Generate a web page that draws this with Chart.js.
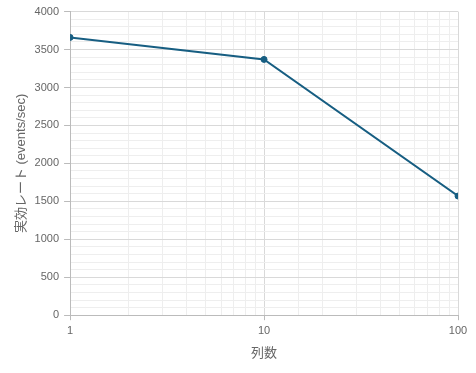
<!DOCTYPE html>
<html>
<head>
<meta charset="utf-8">
<script src="https://cdn.jsdelivr.net/npm/chart.js@4/dist/chart.umd.min.js"></script>
<style>
  body { margin: 0; background: #fff; }
  #wrap { width: 476px; height: 373px; }
</style>
</head>
<body>
<div id="wrap"><canvas id="canvas" width="476" height="373"></canvas></div>
<script>
var columns = [1, 10, 100];
var rates = [3660, 3370, 1570];
var xMajorTicks = [1, 10, 100];

var isMajorX = function(v){ return xMajorTicks.indexOf(v) >= 0; };
var isMajorY = function(v){ return v % 500 === 0; };

var points = [];
for (var i = 0; i < columns.length; i++) {
  points.push({x: columns[i], y: rates[i]});
}

Chart.defaults.font.family = "'Liberation Sans', 'Noto Sans CJK JP', sans-serif";
Chart.defaults.color = '#666';

var ctx = document.getElementById('canvas').getContext('2d');
var chart = new Chart(ctx, {
  type: 'line',
  data: {
    datasets: [{
      data: points,
      borderColor: '#175e82',
      backgroundColor: '#175e82',
      borderWidth: 2,
      pointRadius: 3,
      pointBorderWidth: 1,
      pointBackgroundColor: '#175e82',
      fill: false,
      tension: 0
    }]
  },
  options: {
    responsive: false,
    animation: false,
    layout: { padding: { top: 2, right: 18, left: 8, bottom: 8 } },
    plugins: { legend: { display: false }, tooltip: { enabled: false } },
    scales: {
      x: {
        type: 'logarithmic',
        min: 1,
        max: 100,
        border: { color: '#bbb' },
        grid: {
          color: function(c){ return isMajorX(c.tick.value) ? '#d9d9d9' : '#eeeeee'; },
          tickColor: function(c){ return isMajorX(c.tick.value) ? '#bbb' : 'rgba(0,0,0,0)'; },
          tickLength: 5
        },
        ticks: {
          autoSkip: false,
          maxRotation: 0,
          padding: 4,
          font: { size: 11 },
          callback: function(v){ return isMajorX(v) ? String(v) : ''; }
        },
        title: { display: true, text: '列数', font: { size: 13 }, padding: { top: 4 } }
      },
      y: {
        min: 0,
        max: 4000,
        border: { color: '#bbb' },
        grid: {
          color: function(c){ return isMajorY(c.tick.value) ? '#d9d9d9' : '#eeeeee'; },
          tickColor: function(c){ return isMajorY(c.tick.value) ? '#bbb' : 'rgba(0,0,0,0)'; },
          tickLength: 6
        },
        ticks: {
          stepSize: 100,
          autoSkip: false,
          padding: 5,
          font: { size: 11 },
          callback: function(v){ return isMajorY(v) ? String(v) : ''; }
        },
        title: { display: true, text: '実効レート (events/sec)', font: { size: 13 }, padding: { top: 6, bottom: 0 } }
      }
    }
  }
});
</script>
</body>
</html>
